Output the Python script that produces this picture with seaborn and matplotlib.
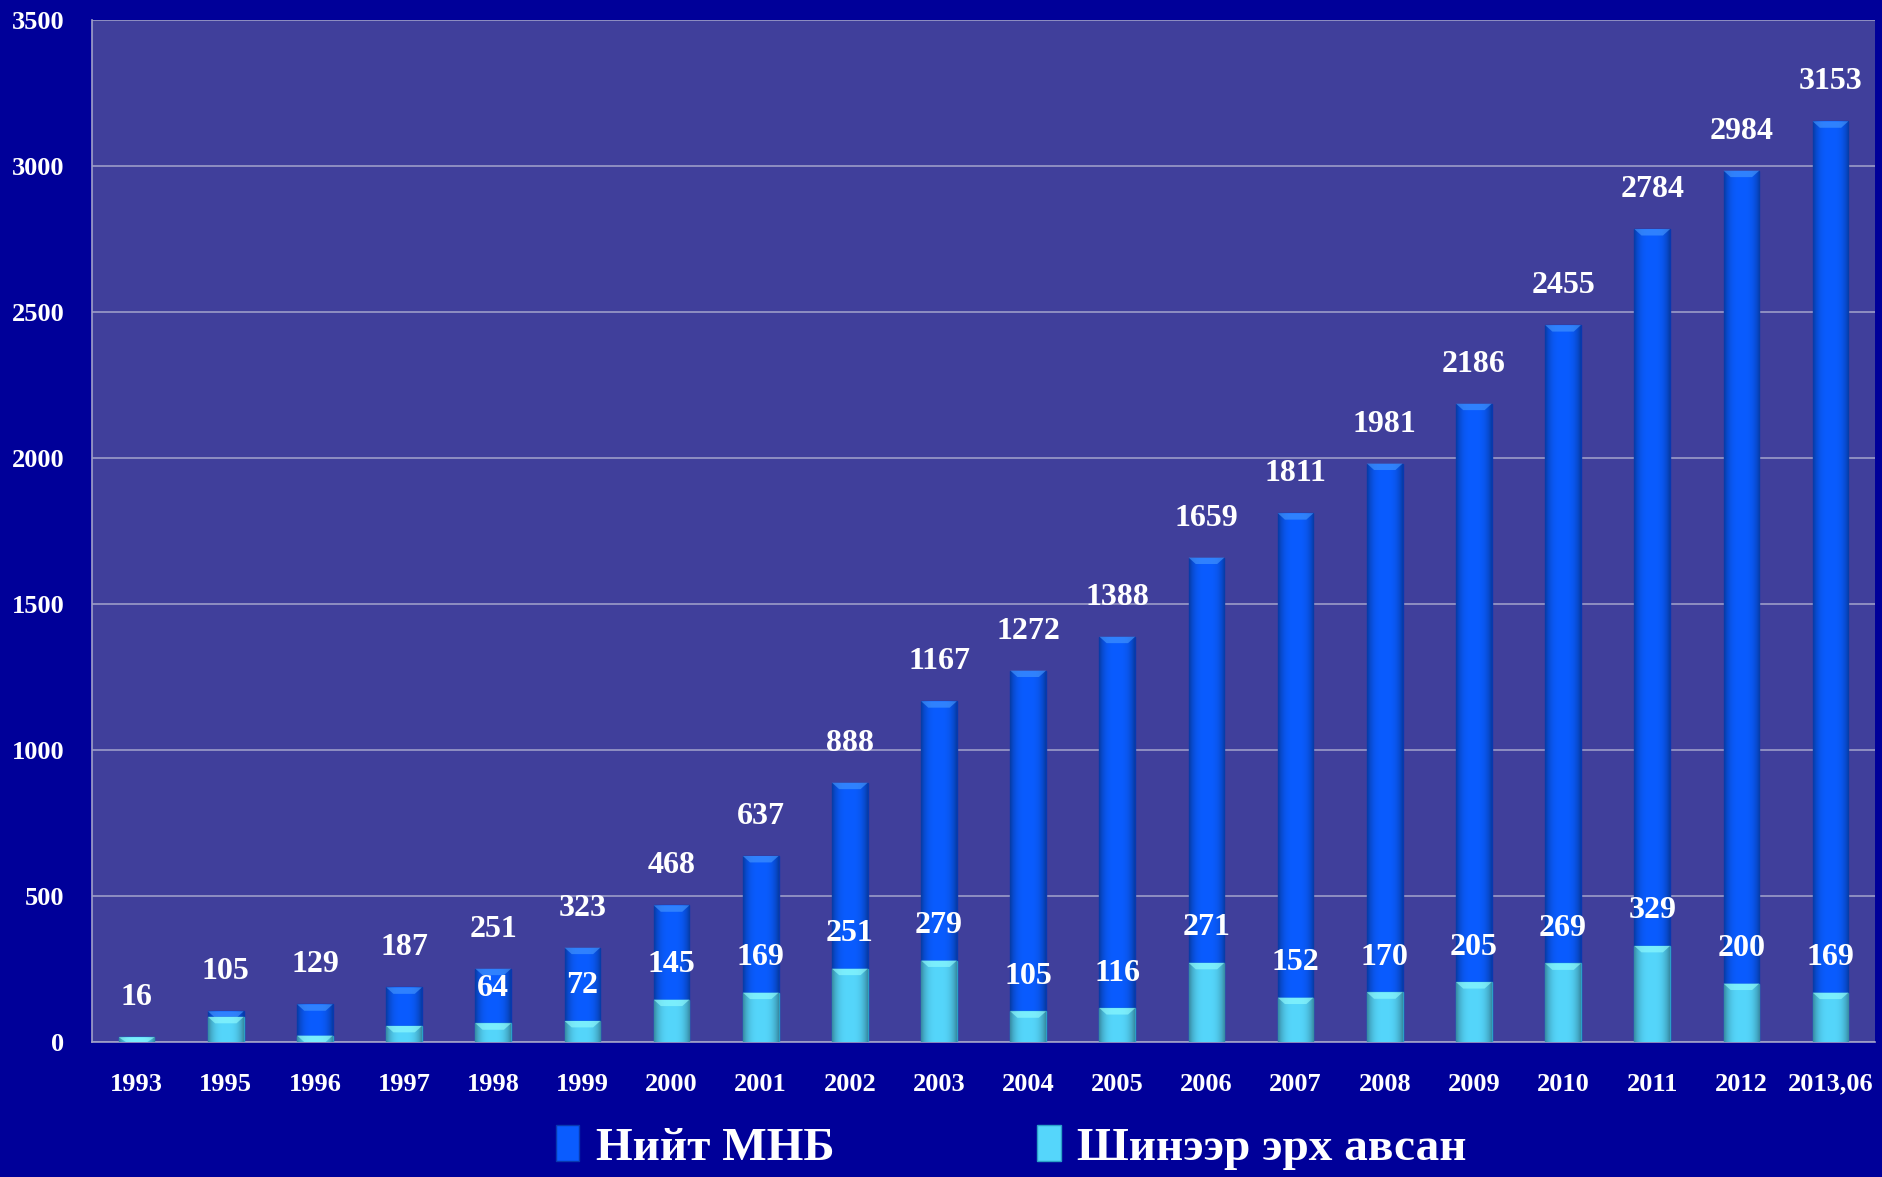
import numpy as np
import pandas as pd
import matplotlib
matplotlib.use("Agg")
import matplotlib.pyplot as plt
from matplotlib.patches import Patch
from matplotlib.colors import to_rgb
import seaborn as sns

# data
years = ["1993", "1995", "1996", "1997", "1998", "1999", "2000", "2001", "2002",
         "2003", "2004", "2005", "2006", "2007", "2008", "2009", "2010", "2011",
         "2012", "2013,06"]
total = [16, 105, 129, 187, 251, 323, 468, 637, 888, 1167, 1272, 1388, 1659,
         1811, 1981, 2186, 2455, 2784, 2984, 3153]
new = [16, 86, 22, 55, 64, 72, 145, 169, 251, 279, 105, 116, 271, 152, 170,
       205, 269, 329, 200, 169]
first_new_label = 4  # the earliest years carry no label for new ones
series_names = ["Нийт МНБ", "Шинээр эрх авсан"]

BG = "#000099"
PANEL = "#403f9b"
BLUE = "#0a5cff"
CYAN = "#55d6fb"

sns.set_style("white")
plt.rcParams["font.family"] = ["Liberation Serif", "DejaVu Serif"]
plt.rcParams["font.weight"] = "bold"

df = pd.DataFrame({"year": years, "total": total, "new": new})

fig = plt.figure(figsize=(18.83, 11.77), dpi=100, facecolor=BG)
ax = fig.add_axes([0.0489, 0.1147, 0.9469, 0.8683])
ax.set_facecolor(PANEL)

sns.barplot(data=df, x="year", y="total", color=BLUE, saturation=1, width=0.4,
            edgecolor="#0838b0", linewidth=1.0, ax=ax, zorder=2)
sns.barplot(data=df, x="year", y="new", color=CYAN, saturation=1, width=0.4,
            edgecolor="#2aa0c8", linewidth=1.0, ax=ax, zorder=3)

ax.set_ylim(0, 3500)
ax.set_xlim(-0.5, len(years) - 0.5)

# shaded sides and a light bevel on top, like the original 3d-ish bars
xs = np.linspace(0, 1, 64)
shade = 1 - 0.35 * np.abs(2 * xs - 1) ** 3
for p in list(ax.patches):
    x0, w, h = p.get_x(), p.get_width(), p.get_height()
    base = np.array(to_rgb(p.get_facecolor()))
    img = (shade[:, None] * base[None, :])[None, :, :]
    im = ax.imshow(img, extent=[x0, x0 + w, 0, h], aspect="auto",
                   zorder=p.get_zorder() + 0.05, interpolation="bilinear")
    im.set_clip_path(p)
    light = tuple(np.minimum(1, base + 0.25))
    band = min(h, 22)
    ax.fill([x0, x0 + w, x0 + w * 0.8, x0 + w * 0.2],
            [h, h, h - band, h - band], color=light, alpha=0.6,
            lw=0, zorder=p.get_zorder() + 0.1)

ax.set_ylim(0, 3500)
ax.set_xlim(-0.5, len(years) - 0.5)

for i, (t, n) in enumerate(zip(total, new)):
    ax.text(i, t + 135, str(t), ha="center", va="center", color="white",
            fontsize=23, fontweight="bold", zorder=5)
    if i >= first_new_label:
        ax.text(i, n + 120, str(n), ha="center", va="center", color="white",
                fontsize=23, fontweight="bold", zorder=5)

ax.set_yticks(np.arange(0, 3501, 500))
ax.yaxis.grid(True, color="#9c9cc8", linewidth=1.2)
ax.set_axisbelow(True)
ax.set_xlabel("")
ax.set_ylabel("")

ax.set_xticks(np.arange(-0.5, len(years)), minor=True)
ax.tick_params(axis="x", which="major", length=0, pad=22, labelsize=19,
               labelcolor="white")
ax.tick_params(axis="x", which="minor", length=9, width=1.2, color="#a0a0c8")
ax.tick_params(axis="y", length=8, width=1.2, color="#a0a0c8", pad=12,
               labelsize=19, labelcolor="white")
for lab in ax.get_xticklabels() + ax.get_yticklabels():
    lab.set_fontweight("bold")

for side in ["top", "right"]:
    ax.spines[side].set_visible(False)
for side in ["left", "bottom"]:
    ax.spines[side].set_color("#a0a0c8")
    ax.spines[side].set_linewidth(1.2)

handles = [Patch(facecolor=BLUE, edgecolor="#0838b0"),
           Patch(facecolor=CYAN, edgecolor="#2aa0c8")]
fig.legend(handles, series_names, loc="lower center", ncol=2,
           bbox_to_anchor=(0.537, -0.03), frameon=False,
           labelcolor="white", handlelength=0.5, handleheight=0.8,
           handletextpad=0.35, columnspacing=4.3,
           prop={"weight": "bold", "size": 34})

fig.savefig("out.png", dpi=100, facecolor=BG)
